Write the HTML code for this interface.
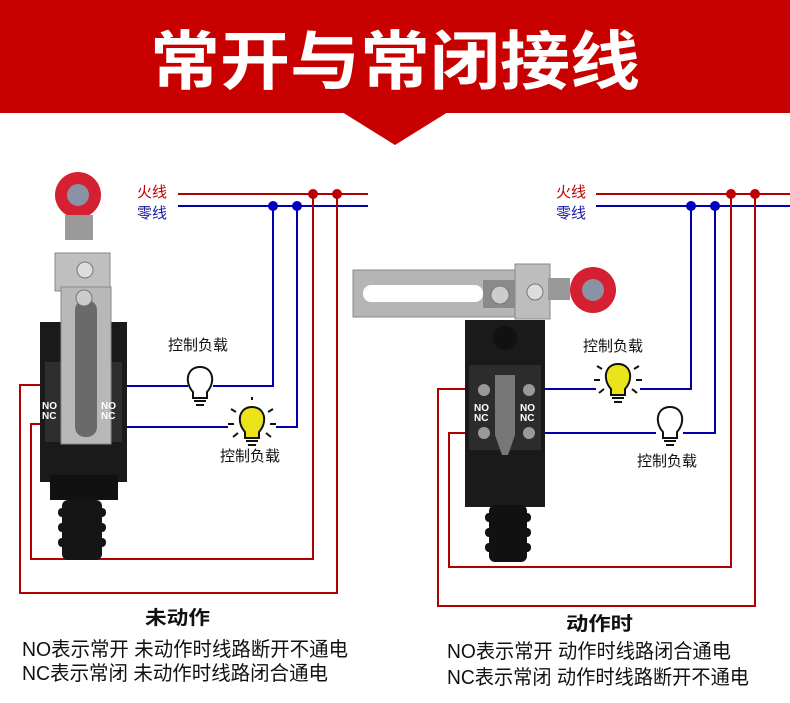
<!DOCTYPE html>
<html><head><meta charset="utf-8"><style>
html,body{margin:0;padding:0;background:#fff;}
svg{display:block;font-family:"Liberation Sans","Noto Sans CJK SC",sans-serif;}
</style></head><body>
<svg width="790" height="703" viewBox="0 0 790 703" xmlns="http://www.w3.org/2000/svg">
<!-- header -->
<rect x="0" y="0" width="790" height="113" fill="#c80000"/>
<polygon points="342,112 448,112 395,145" fill="#c80000"/>
<text x="395" y="84" text-anchor="middle" fill="#fff" font-size="64" font-weight="bold" textLength="490" lengthAdjust="spacingAndGlyphs">常开与常闭接线</text>

<!-- ============ LEFT ============ -->
<text x="137" y="197" fill="#c00000" font-size="15">火线</text>
<text x="137" y="218" fill="#1a1aa8" font-size="15">零线</text>
<g fill="none" stroke-width="2">
<path d="M178 194H368" stroke="#b00000"/>
<path d="M178 206H368" stroke="#0000a8"/>
<path d="M273 206V386H213 M188 386H112" stroke="#0000a8"/>
<path d="M297 206V427H276 M228 427H108" stroke="#0000a8"/>
<path d="M313 194V559H31V424H60" stroke="#b00000"/>
<path d="M337 194V593H20V385H60" stroke="#b00000"/>
</g>
<g fill="#0000c0"><circle cx="273" cy="206" r="5"/><circle cx="297" cy="206" r="5"/></g>
<g fill="#c00000"><circle cx="313" cy="194" r="5"/><circle cx="337" cy="194" r="5"/></g>

<!-- left switch -->
<rect x="40" y="322" width="87" height="160" fill="#1a1a1a"/>
<rect x="45" y="362" width="77" height="80" fill="#2e2e2e"/>
<rect x="50" y="475" width="68" height="25" fill="#111"/>
<g fill="#151515">
<rect x="62" y="500" width="40" height="60" rx="6"/>
<rect x="58" y="508" width="48" height="9" rx="4"/>
<rect x="58" y="523" width="48" height="9" rx="4"/>
<rect x="58" y="538" width="48" height="9" rx="4"/>
</g>
<circle cx="78" cy="195" r="23" fill="#d42030"/>
<circle cx="78" cy="195" r="11" fill="#8a93a6"/>
<rect x="65" y="215" width="28" height="25" fill="#9a9a9a"/>
<rect x="55" y="253" width="55" height="38" fill="#bfbfbf" stroke="#888"/>
<circle cx="85" cy="270" r="8" fill="#ddd" stroke="#777"/>
<rect x="61" y="287" width="50" height="157" fill="#b8b8b8" stroke="#888"/>
<rect x="75" y="300" width="22" height="137" rx="10" fill="#6a6a6a"/>
<circle cx="84" cy="298" r="8" fill="#ccc" stroke="#777"/>
<text x="42" y="409" fill="#fff" font-size="10" font-weight="bold">NO</text>
<text x="42" y="419" fill="#fff" font-size="10" font-weight="bold">NC</text>
<text x="101" y="409" fill="#fff" font-size="10" font-weight="bold">NO</text>
<text x="101" y="419" fill="#fff" font-size="10" font-weight="bold">NC</text>

<text x="168" y="350" font-size="15" fill="#111">控制负载</text>
<text x="220" y="461" font-size="15" fill="#111">控制负载</text>
<!-- outline bulb -->
<g stroke="#111" stroke-width="2" fill="#fff">
<path d="M193 392 C184 382 187 367 200 367 C213 367 216 382 207 392 V398 H193 Z"/>
<path d="M194 401H206 M196 405H204" fill="none"/>
</g>
<!-- yellow bulb -->
<g stroke="#111" stroke-width="2">
<path d="M245 432 C236 422 239 407 252 407 C265 407 268 422 259 432 V438 H245 Z" fill="#ebe31a"/>
<path d="M246 441H258 M248 445H256 M236 412l-5-3 M268 412l5-3 M234 424h-6 M270 424h6 M238 433l-5 4 M266 433l5 4 M252 400v-3" fill="none"/>
</g>

<!-- ============ RIGHT ============ -->
<text x="556" y="197" fill="#c00000" font-size="15">火线</text>
<text x="556" y="218" fill="#1a1aa8" font-size="15">零线</text>
<g fill="none" stroke-width="2">
<path d="M596 194H790" stroke="#b00000"/>
<path d="M596 206H790" stroke="#0000a8"/>
<path d="M691 206V389H640 M596 389H528" stroke="#0000a8"/>
<path d="M715 206V433H683 M656 433H528" stroke="#0000a8"/>
<path d="M731 194V567H449V433H480" stroke="#b00000"/>
<path d="M755 194V606H438V389H480" stroke="#b00000"/>
</g>
<g fill="#0000c0"><circle cx="691" cy="206" r="5"/><circle cx="715" cy="206" r="5"/></g>
<g fill="#c00000"><circle cx="731" cy="194" r="5"/><circle cx="755" cy="194" r="5"/></g>

<!-- right switch -->
<rect x="465" y="320" width="80" height="187" fill="#1a1a1a"/>
<rect x="469" y="365" width="72" height="85" fill="#2c2c2c"/>
<polygon points="495,375 515,375 515,435 508,455 502,455 495,435" fill="#777"/>
<g fill="#999"><circle cx="484" cy="390" r="6"/><circle cx="484" cy="433" r="6"/><circle cx="529" cy="390" r="6"/><circle cx="529" cy="433" r="6"/></g>
<circle cx="505" cy="338" r="12" fill="#111"/>
<g fill="#111">
<rect x="489" y="505" width="38" height="57" rx="6"/>
<rect x="485" y="513" width="46" height="9" rx="4"/>
<rect x="485" y="528" width="46" height="9" rx="4"/>
<rect x="485" y="543" width="46" height="9" rx="4"/>
</g>
<text x="474" y="411" fill="#fff" font-size="10" font-weight="bold">NO</text>
<text x="474" y="421" fill="#fff" font-size="10" font-weight="bold">NC</text>
<text x="520" y="411" fill="#fff" font-size="10" font-weight="bold">NO</text>
<text x="520" y="421" fill="#fff" font-size="10" font-weight="bold">NC</text>
<rect x="353" y="270" width="170" height="47" fill="#b5b5b5" stroke="#888"/>
<rect x="363" y="285" width="120" height="17" rx="8" fill="#fff"/>
<rect x="483" y="280" width="35" height="28" fill="#8a8a8a"/>
<circle cx="500" cy="295" r="9" fill="#ccc" stroke="#777"/>
<rect x="515" y="264" width="35" height="55" fill="#bdbdbd" stroke="#888"/>
<circle cx="535" cy="292" r="8" fill="#ddd" stroke="#777"/>
<rect x="548" y="278" width="22" height="22" fill="#999"/>
<circle cx="593" cy="290" r="23" fill="#d42030"/>
<circle cx="593" cy="290" r="11" fill="#8a93a6"/>

<text x="583" y="351" font-size="15" fill="#111">控制负载</text>
<text x="637" y="466" font-size="15" fill="#111">控制负载</text>
<!-- yellow bulb -->
<g stroke="#111" stroke-width="2">
<path d="M611 389 C602 379 605 364 618 364 C631 364 634 379 625 389 V395 H611 Z" fill="#ebe31a"/>
<path d="M612 398H624 M614 402H622 M602 369l-5-3 M634 369l5-3 M600 380h-6 M636 380h6 M604 389l-5 4 M632 389l5 4" fill="none"/>
</g>
<!-- outline bulb -->
<g stroke="#111" stroke-width="2" fill="#fff">
<path d="M663 432 C654 422 657 407 670 407 C683 407 686 422 677 432 V438 H663 Z"/>
<path d="M664 441H676 M666 445H674" fill="none"/>
</g>

<!-- bottom texts -->
<text x="145" y="624" font-size="19" font-weight="bold" fill="#111" textLength="65" lengthAdjust="spacingAndGlyphs">未动作</text>
<text x="22" y="656" font-size="20" fill="#111" textLength="326" lengthAdjust="spacingAndGlyphs">NO表示常开 未动作时线路断开不通电</text>
<text x="22" y="680" font-size="20" fill="#111" textLength="306" lengthAdjust="spacingAndGlyphs">NC表示常闭 未动作时线路闭合通电</text>
<text x="566" y="630" font-size="19" font-weight="bold" fill="#111" textLength="67" lengthAdjust="spacingAndGlyphs">动作时</text>
<text x="447" y="658" font-size="20" fill="#111" textLength="284" lengthAdjust="spacingAndGlyphs">NO表示常开 动作时线路闭合通电</text>
<text x="447" y="684" font-size="20" fill="#111" textLength="302" lengthAdjust="spacingAndGlyphs">NC表示常闭 动作时线路断开不通电</text>
</svg>
</body></html>
